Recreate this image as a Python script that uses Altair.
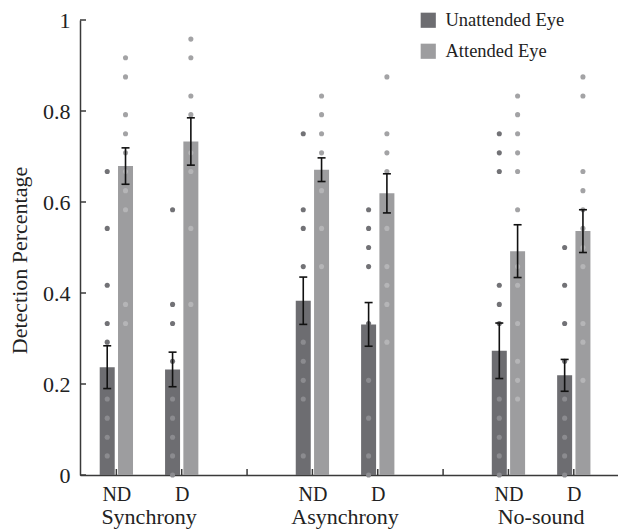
import altair as alt
import pandas as pd

# Conditions and cue types; slots 3 and 6 on the x scale are left empty as spacers
conditions = ["Synchrony", "Asynchrony", "No-sound"]
cues = ["ND", "D"]
slots = [1, 2, 4, 5, 7, 8]
eyes = ["Unattended Eye", "Attended Eye"]

# Group means and standard errors (order: Sync ND, Sync D, Async ND, Async D, NoSnd ND, NoSnd D)
unattended_mean = [0.237, 0.232, 0.383, 0.331, 0.273, 0.219]
unattended_se = [0.047, 0.038, 0.052, 0.048, 0.061, 0.035]
attended_mean = [0.679, 0.733, 0.671, 0.619, 0.492, 0.536]
attended_se = [0.040, 0.052, 0.026, 0.043, 0.058, 0.047]

# Individual participants' detection rates
unattended_points = [
    [0.667, 0.542, 0.417, 0.333, 0.292, 0.167, 0.125, 0.083, 0.042],
    [0.583, 0.375, 0.333, 0.250, 0.167, 0.125, 0.083, 0.042, 0.0],
    [0.750, 0.583, 0.542, 0.458, 0.292, 0.250, 0.208, 0.167, 0.042],
    [0.583, 0.542, 0.500, 0.458, 0.333, 0.208, 0.125, 0.042, 0.0],
    [0.750, 0.708, 0.667, 0.417, 0.375, 0.333, 0.167, 0.125, 0.083, 0.042, 0.0],
    [0.500, 0.417, 0.333, 0.250, 0.167, 0.125, 0.083, 0.042, 0.0],
]
attended_points = [
    [0.917, 0.875, 0.792, 0.750, 0.708, 0.667, 0.625, 0.583, 0.375, 0.333],
    [0.958, 0.917, 0.833, 0.792, 0.708, 0.667, 0.542, 0.375],
    [0.833, 0.792, 0.750, 0.708, 0.625, 0.542, 0.458],
    [0.875, 0.750, 0.708, 0.667, 0.542, 0.458, 0.417, 0.375, 0.292],
    [0.833, 0.792, 0.750, 0.708, 0.667, 0.583, 0.458, 0.417, 0.333, 0.250, 0.208, 0.167],
    [0.875, 0.833, 0.667, 0.625, 0.583, 0.542, 0.500, 0.458, 0.333, 0.292, 0.208],
]

y_ticks = [0, 0.2, 0.4, 0.6, 0.8, 1.0]
x_ticks = [1, 2, 3, 4, 5, 6, 7, 8]

FONT = "Liberation Serif"
AXIS = "#3a3a3a"
TEXT = "#222222"
BAR_COLORS = ["#6d6d71", "#9d9d9f"]
DOT_OUT = {"Unattended Eye": "#727276", "Attended Eye": "#a3a3a5"}
DOT_IN = {"Unattended Eye": "#8b8b8f", "Attended Eye": "#b5b5b7"}
OFFSET = 0.14  # half the distance between paired bars, in slot units

W, H = 538, 455

bar_rows, dot_rows = [], []
for i, slot in enumerate(slots):
    for eye, means, ses, pts, sign in [
        ("Unattended Eye", unattended_mean, unattended_se, unattended_points, -1),
        ("Attended Eye", attended_mean, attended_se, attended_points, 1),
    ]:
        x = slot + sign * OFFSET
        m, s = means[i], ses[i]
        bar_rows.append({"x": x, "eye": eye, "mean": m, "lo": m - s, "hi": m + s})
        for v in pts[i]:
            fill = DOT_IN[eye] if v < m else DOT_OUT[eye]
            dot_rows.append({"x": x, "eye": eye, "value": v, "fill": fill})

bars_df = pd.DataFrame(bar_rows)
dots_df = pd.DataFrame(dot_rows)
groups_df = pd.DataFrame({"x": [1.5, 4.5, 7.5], "label": conditions})
yt_df = pd.DataFrame({"y": y_ticks})
xt_df = pd.DataFrame({"x": x_ticks})

label_expr = " : ".join(
    f"datum.value == {s} ? '{cues[i % 2]}'" for i, s in enumerate(slots)
) + " : ''"

xscale = alt.Scale(domain=[0.52, 8.6], nice=False, zero=False)
yscale = alt.Scale(domain=[0, 1], nice=False)

x_axis = alt.Axis(
    values=x_ticks, labelExpr=label_expr, tickSize=0, grid=False, title=None,
    labelFont=FONT, labelFontSize=20, labelColor=TEXT, labelPadding=9,
    domainColor=AXIS, domainWidth=1.5, labelFlush=False, labelOverlap=False,
)
y_axis = alt.Axis(
    values=y_ticks, format="~g", tickSize=0, grid=False,
    title="Detection Percentage", titleFont=FONT, titleFontSize=22,
    titleFontWeight="normal", titleColor=TEXT, titleY=240, titleX=-61,
    titleAlign="center", titleBaseline="middle",
    labelFont=FONT, labelFontSize=22, labelColor=TEXT, labelPadding=10,
    domainColor=AXIS, domainWidth=1.5,
)

bars = alt.Chart(bars_df).mark_bar(size=15).encode(
    x=alt.X("x:Q", scale=xscale, axis=x_axis),
    y=alt.Y("mean:Q", scale=yscale, axis=y_axis),
    color=alt.Color(
        "eye:N",
        scale=alt.Scale(domain=eyes, range=BAR_COLORS),
        legend=alt.Legend(
            title=None, orient="none", legendX=339, legendY=-9,
            symbolType="square", symbolSize=230, symbolStrokeWidth=0,
            symbolOpacity=1, labelFont=FONT, labelFontSize=18.5,
            labelColor=TEXT, rowPadding=12, labelOffset=8,
        ),
    ),
)

dots = alt.Chart(dots_df).mark_circle(size=26, opacity=1).encode(
    x=alt.X("x:Q", scale=xscale),
    y=alt.Y("value:Q", scale=yscale),
    color=alt.Color("fill:N", scale=None),
)

err = alt.Chart(bars_df).mark_rule(color="#111", strokeWidth=1.6).encode(
    x=alt.X("x:Q", scale=xscale),
    y=alt.Y("lo:Q", scale=yscale),
    y2="hi:Q",
)

caps = alt.Chart(bars_df).transform_fold(["lo", "hi"], as_=["end", "v"]).mark_tick(
    orient="horizontal", size=8, thickness=1.6, color="#111", opacity=1
).encode(
    x=alt.X("x:Q", scale=xscale),
    y=alt.Y("v:Q", scale=yscale),
)

yticks = alt.Chart(yt_df).mark_rule(color=AXIS, strokeWidth=1.5).encode(
    y=alt.Y("y:Q", scale=yscale),
    x=alt.value(0),
    x2=alt.value(6),
)

xticks = alt.Chart(xt_df).mark_rule(color=AXIS, strokeWidth=1.5).encode(
    x=alt.X("x:Q", scale=xscale),
    y=alt.value(H),
    y2=alt.value(H - 6),
)

group_labels = alt.Chart(groups_df).mark_text(
    font=FONT, fontSize=22, color=TEXT, baseline="alphabetic"
).encode(
    x=alt.X("x:Q", scale=xscale),
    y=alt.value(H + 49),
    text="label:N",
)

chart = (
    alt.layer(bars, dots, err, caps, yticks, xticks, group_labels)
    .resolve_scale(color="independent")
    .properties(
        width=W, height=H,
        autosize=alt.AutoSizeParams(type="none"),
        padding={"left": 80, "top": 20, "right": 0, "bottom": 55},
        background="white",
    )
    .configure_view(stroke=None)
)

chart.save("out.html", embed_options={"renderer": "svg", "actions": False})
